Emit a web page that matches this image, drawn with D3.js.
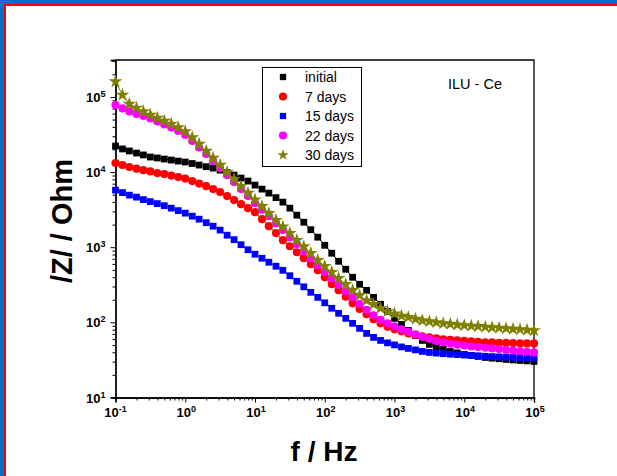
<!DOCTYPE html>
<html>
<head>
<meta charset="utf-8">
<script src="https://cdn.jsdelivr.net/npm/d3@7/dist/d3.min.js"></script>
<style>
  body { margin: 0; background: #fff; }
  svg text { font-family: Arial, "Liberation Sans", sans-serif; }
</style>
</head>
<body>
<svg id="chart"></svg>
<script>
// frequency, Hz (10 points per decade)
const freq = [0.1, 0.126, 0.158, 0.2, 0.251, 0.316, 0.398, 0.501, 0.631, 0.794,
  1, 1.26, 1.58, 2, 2.51, 3.16, 3.98, 5.01, 6.31, 7.94,
  10, 12.6, 15.8, 20, 25.1, 31.6, 39.8, 50.1, 63.1, 79.4,
  100, 126, 158, 200, 251, 316, 398, 501, 631, 794,
  1000, 1260, 1580, 2000, 2510, 3160, 3980, 5010, 6310, 7940,
  10000, 12600, 15800, 20000, 25100, 31600, 39800, 50100, 63100, 79400, 100000];

// |Z| in Ohm
const zInitial = [22200, 20300, 19100, 17900, 16900, 15850, 15400, 14900, 14450, 14000,
  13600, 13000, 12400, 11800, 11300, 10600, 9850, 9120, 8320, 7590,
  6710, 5930, 5250, 4570, 3980, 3310, 2670, 2150, 1710, 1360,
  1060, 832, 650, 509, 398, 321, 267, 215, 174, 140,
  113, 94.0, 78.2, 67.1, 57.5, 50.9, 46.4, 43.7, 41.0, 39.2,
  37.4, 36.3, 35.2, 34.1, 33.4, 32.8, 32.1, 31.6, 31.1, 30.7, 30.2];
const z7days = [13200, 12400, 11700, 11100, 10600, 10200, 9700, 9400, 8980, 8580,
  8190, 7590, 7030, 6500, 5930, 5410, 4790, 4240, 3740, 3310,
  2930, 2360, 1905, 1540, 1240, 1030, 858, 713, 593, 493,
  398, 321, 267, 219, 179, 151, 128, 110, 97.0, 87.1,
  80.7, 75.9, 71.3, 68.1, 65.0, 63.1, 61.2, 59.3, 58.4, 57.5,
  56.6, 55.8, 55.0, 54.1, 54.1, 53.6, 53.3, 53.0, 52.5, 52.5, 52.5];
const z15days = [5750, 5330, 4930, 4640, 4300, 4040, 3800, 3570, 3310, 3070,
  2840, 2590, 2360, 2120, 1905, 1690, 1445, 1260, 1080, 926,
  807, 713, 631, 558, 493, 417, 352, 297, 251, 215,
  182, 154, 132, 113, 97.0, 83.2, 71.3, 63.1, 57.5, 53.3,
  50.1, 47.1, 45.0, 43.0, 41.0, 39.8, 39.0, 38.3, 37.7, 37.2,
  36.7, 36.3, 35.9, 35.4, 35.0, 34.7, 34.4, 34.1, 33.9, 33.7, 33.6];
const z22days = [78200, 70300, 64100, 59300, 55800, 51700, 47100, 43000, 39200, 35200,
  31100, 25900, 21200, 17400, 14000, 11300, 9120, 7360, 5930, 4790,
  3860, 3160, 2590, 2090, 1690, 1360, 1100, 885, 713, 575,
  471, 386, 316, 259, 215, 177, 147, 124, 108, 97.0,
  88.5, 80.7, 74.6, 69.2, 64.1, 60.3, 56.6, 54.1, 52.0, 50.5,
  49.1, 47.9, 46.9, 46.0, 45.0, 44.1, 43.0, 42.1, 41.3, 40.6, 39.8];
const z30days = [160000, 106000, 80700, 71300, 64100, 57500, 52500, 47900, 43700, 39200,
  34700, 28800, 23600, 19050, 15400, 12400, 10000, 8070, 6500, 5250,
  4300, 3520, 2840, 2290, 1880, 1540, 1240, 1020, 832, 671,
  558, 464, 386, 321, 267, 229, 196, 174, 154, 140,
  130, 122, 117, 111, 106, 103, 100, 97.0, 94.9, 93.1,
  91.2, 89.8, 88.5, 87.1, 85.7, 84.5, 83.2, 81.8, 80.7, 79.4, 78.2];

const seriesNames = ["initial", "7 days", "15 days", "22 days", "30 days"];
const seriesColors = ["#000000", "#ff0000", "#0000ff", "#ff00ff", "#808000"];
const seriesSymbols = [d3.symbolSquare, d3.symbolCircle, d3.symbolSquare, d3.symbolCircle, d3.symbolStar];
const seriesValues = [zInitial, z7days, z15days, z22days, z30days];

const xMajor = [-1, 0, 1, 2, 3, 4, 5];   // exponents
const yMajor = [1, 2, 3, 4, 5];

function init() {
    const W = 617, H = 476;
    const left = 115.5, right = 534, top = 60, bottom = 397.5;

    const svg = d3.select("#chart").attr("width", W).attr("height", H);

    // page frame (blue + red edge)
    svg.append("rect").attr("width", W).attr("height", H).attr("fill", "#0070c0");
    svg.append("rect").attr("x", 4).attr("y", 4).attr("width", W - 4).attr("height", H - 4).attr("fill", "#ff0000");
    svg.append("rect").attr("x", 6).attr("y", 6).attr("width", W - 6).attr("height", H - 6).attr("fill", "#ffffff");

    const scaleX = d3.scaleLog().domain([0.1, 1e5]).range([left, right]);
    const scaleY = d3.scaleLog().domain([10, 3.1e5]).range([bottom, top]);

    // minor tick values
    const xMinor = [], yMinor = [];
    xMajor.slice(0, -1).forEach(e => { for (let m = 2; m < 10; m++) xMinor.push(m * Math.pow(10, e)); });
    yMajor.forEach(e => { for (let m = 2; m < 10; m++) { const v = m * Math.pow(10, e); if (v <= 3.1e5) yMinor.push(v); } });

    //axis lines + ticks
    const gx = svg.append("g").attr("transform", `translate(0, ${bottom})`);
    gx.call(d3.axisBottom(scaleX).tickValues(xMajor.map(e => Math.pow(10, e))).tickFormat("").tickSizeOuter(0).tickSize(5));
    gx.append("g").call(d3.axisBottom(scaleX).tickValues(xMinor).tickFormat("").tickSizeOuter(0).tickSize(3));

    const gy = svg.append("g").attr("transform", `translate(${left}, 0)`);
    gy.call(d3.axisLeft(scaleY).tickValues(yMajor.map(e => Math.pow(10, e))).tickFormat("").tickSizeOuter(0).tickSize(5));
    gy.append("g").call(d3.axisLeft(scaleY).tickValues(yMinor).tickFormat("").tickSizeOuter(0).tickSize(3));

    svg.selectAll(".domain").attr("stroke", "#000").attr("stroke-width", 1.3);
    svg.selectAll(".tick line").attr("stroke", "#000").attr("stroke-width", 1);

    // top and right frame
    svg.append("path")
        .attr("d", `M${left},${top}H${right}V${bottom}`)
        .attr("fill", "none").attr("stroke", "#000").attr("stroke-width", 1.3);

    // tick labels with superscripts
    const xl = svg.append("g").selectAll("text").data(xMajor).enter()
        .append("text")
        .attr("x", d => scaleX(Math.pow(10, d)) + (d < 0 ? 0 : 1))
        .attr("y", bottom + 19)
        .attr("text-anchor", "middle")
        .attr("font-size", 13).attr("font-weight", "bold");
    xl.append("tspan").text("10");
    xl.append("tspan").attr("dy", -5).attr("font-size", 9).text(d => d);

    const yl = svg.append("g").selectAll("text").data(yMajor).enter()
        .append("text")
        .attr("x", left - 10)
        .attr("y", d => scaleY(Math.pow(10, d)) + 5)
        .attr("text-anchor", "end")
        .attr("font-size", 13).attr("font-weight", "bold");
    yl.append("tspan").text("10");
    yl.append("tspan").attr("dy", -5).attr("font-size", 9).text(d => d);

    // axis titles
    svg.append("text")
        .attr("x", 324).attr("y", 461)
        .attr("text-anchor", "middle")
        .attr("font-size", 28).attr("font-weight", "bold")
        .text("f / Hz");
    svg.append("text")
        .attr("transform", `translate(72, 221) rotate(-90)`)
        .attr("text-anchor", "middle")
        .attr("font-size", 29).attr("font-weight", "bold")
        .text("/Z/ / Ohm");

    // series: thin line + markers
    const line = d3.line().x((d, i) => scaleX(freq[i])).y(d => scaleY(d));
    seriesValues.forEach((vals, s) => {
        svg.append("path")
            .attr("d", line(vals))
            .attr("fill", "none")
            .attr("stroke", seriesColors[s])
            .attr("stroke-width", 1);
        const size = s === 4 ? 58 : (seriesSymbols[s] === d3.symbolCircle ? 52 : 46);
        svg.append("g").selectAll("path").data(vals).enter()
            .append("path")
            .attr("transform", (d, i) => `translate(${scaleX(freq[i])}, ${scaleY(d)})`)
            .attr("d", d3.symbol().type(seriesSymbols[s]).size(size))
            .attr("fill", seriesColors[s]);
    });

    // legend
    const legend = svg.append("g");
    legend.append("rect")
        .attr("x", 262.5).attr("y", 67.5).attr("width", 99).attr("height", 99)
        .attr("fill", "#fff").attr("stroke", "#000").attr("stroke-width", 1);
    seriesNames.forEach((name, s) => {
        const cy = 77 + s * 19.5;
        const size = s === 4 ? 40 : (seriesSymbols[s] === d3.symbolCircle ? 52 : 40);
        legend.append("path")
            .attr("transform", `translate(283, ${cy})`)
            .attr("d", d3.symbol().type(seriesSymbols[s]).size(size))
            .attr("fill", seriesColors[s]);
        legend.append("text")
            .attr("x", 305).attr("y", cy + 5)
            .attr("font-size", 14)
            .text(name);
    });

    svg.append("text")
        .attr("x", 448).attr("y", 89)
        .attr("font-size", 14.5)
        .text("ILU - Ce");
}

window.onload = init;
</script>
</body>
</html>
